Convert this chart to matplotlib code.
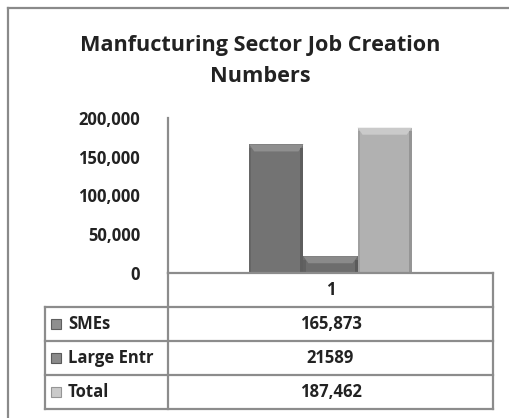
import matplotlib.pyplot as plt
from matplotlib.patches import Polygon, Rectangle
from matplotlib.lines import Line2D

# job creation numbers, manufacturing sector
series = ['SMEs', 'Large Entr', 'Total']
values = [165873, 21589, 187462]
value_labels = ['165,873', '21589', '187,462']
category = '1'
yticks = [0, 50000, 100000, 150000, 200000]
ytick_labels = ['0', '50,000', '100,000', '150,000', '200,000']

body_colors = ['#737373', '#6d6d6d', '#b1b1b1']
top_colors = ['#8f8f8f', '#8a8a8a', '#cacaca']
side_dark = ['#5e5e5e', '#5a5a5a', '#959595']

W, H = 510, 418
plt.rcParams['font.family'] = ['Open Sans', 'DejaVu Sans']
txt = '#222222'
line_c = '#8c8c8c'
fs = 12

fig = plt.figure(figsize=(W / 100, H / 100), dpi=100)


def fx(px):
    return px / W


def fy(py):
    return 1 - py / H


# plot area in pixels
x0, x1, ytop, yzero = 168, 493, 118, 273
ax = fig.add_axes([fx(x0), fy(yzero), fx(x1) - fx(x0), fy(ytop) - fy(yzero)])
ax.set_xlim(0, 1)
ax.set_ylim(0, 200000)
for s in ['top', 'right', 'bottom']:
    ax.spines[s].set_visible(False)
ax.spines['left'].set_color(line_c)
ax.spines['left'].set_linewidth(1.6)
ax.set_xticks([])
ax.set_yticks(yticks)
ax.set_yticklabels(ytick_labels, fontsize=fs, fontweight='bold', color=txt)
ax.tick_params(axis='y', length=0, pad=20)

bw = 1 / 6
xs = [0.5 - bw, 0.5, 0.5 + bw]
bars = ax.bar(xs, values, width=bw, color=body_colors, edgecolor='none')

# bevel edges, sized in pixels then converted to data units
dx = 5 / (x1 - x0)
dy = 7 * 200000 / (yzero - ytop)
sx = 3 / (x1 - x0)
for b, tc, sc in zip(bars, top_colors, side_dark):
    l, w, h = b.get_x(), b.get_width(), b.get_height()
    r = l + w
    ax.add_patch(Polygon([(l, h), (r, h), (r - dx, h - dy), (l + dx, h - dy)],
                         closed=True, color=tc, lw=0))
    ax.add_patch(Rectangle((r - sx, 0), sx, h - dy * 0.5, color=sc, lw=0))
    ax.add_patch(Rectangle((l, 0), sx * 0.7, h - dy * 0.5, color=sc, lw=0, alpha=0.6))

# title
fig.text(fx(260), fy(45), 'Manfucturing Sector Job Creation', ha='center',
         va='center', fontsize=15.6, fontweight='bold', color=txt)
fig.text(fx(260), fy(76), 'Numbers', ha='center', va='center',
         fontsize=15.6, fontweight='bold', color=txt)

# outer chart border
fig.add_artist(Line2D([fx(8), fx(8)], [fy(8), 0], color='#8a8a8a', lw=1.6))
fig.add_artist(Line2D([fx(8), 1], [fy(8), fy(8)], color='#8a8a8a', lw=1.6))

# data table under the plot
tl, tm, tr = 45, 168, 493
rows = [273, 307, 341, 375, 409]


def hline(y, xa, xb):
    fig.add_artist(Line2D([fx(xa), fx(xb)], [fy(y), fy(y)], color=line_c, lw=1.6))


def vline(x, ya, yb):
    fig.add_artist(Line2D([fx(x), fx(x)], [fy(ya), fy(yb)], color=line_c, lw=1.6))


hline(rows[0], tm, tr)
for y in rows[1:]:
    hline(y, tl, tr)
vline(tm, rows[0], rows[-1])
vline(tr, rows[0], rows[-1])
vline(tl, rows[1], rows[-1])

fig.text(fx((tm + tr) / 2), fy((rows[0] + rows[1]) / 2), category, ha='center',
         va='center', fontsize=fs, fontweight='bold', color=txt)
for i, (name, lab) in enumerate(zip(series, value_labels)):
    yc = (rows[i + 1] + rows[i + 2]) / 2
    fig.add_artist(Rectangle((fx(51), fy(yc + 5)), fx(10), fy(yc - 5) - fy(yc + 5),
                             facecolor=top_colors[i], edgecolor=side_dark[i], lw=0.8))
    fig.text(fx(68), fy(yc), name, ha='left', va='center', fontsize=fs,
             fontweight='bold', color=txt)
    fig.text(fx((tm + tr) / 2), fy(yc), lab, ha='center', va='center',
             fontsize=fs, fontweight='bold', color=txt)

fig.savefig('out.png', dpi=100)
